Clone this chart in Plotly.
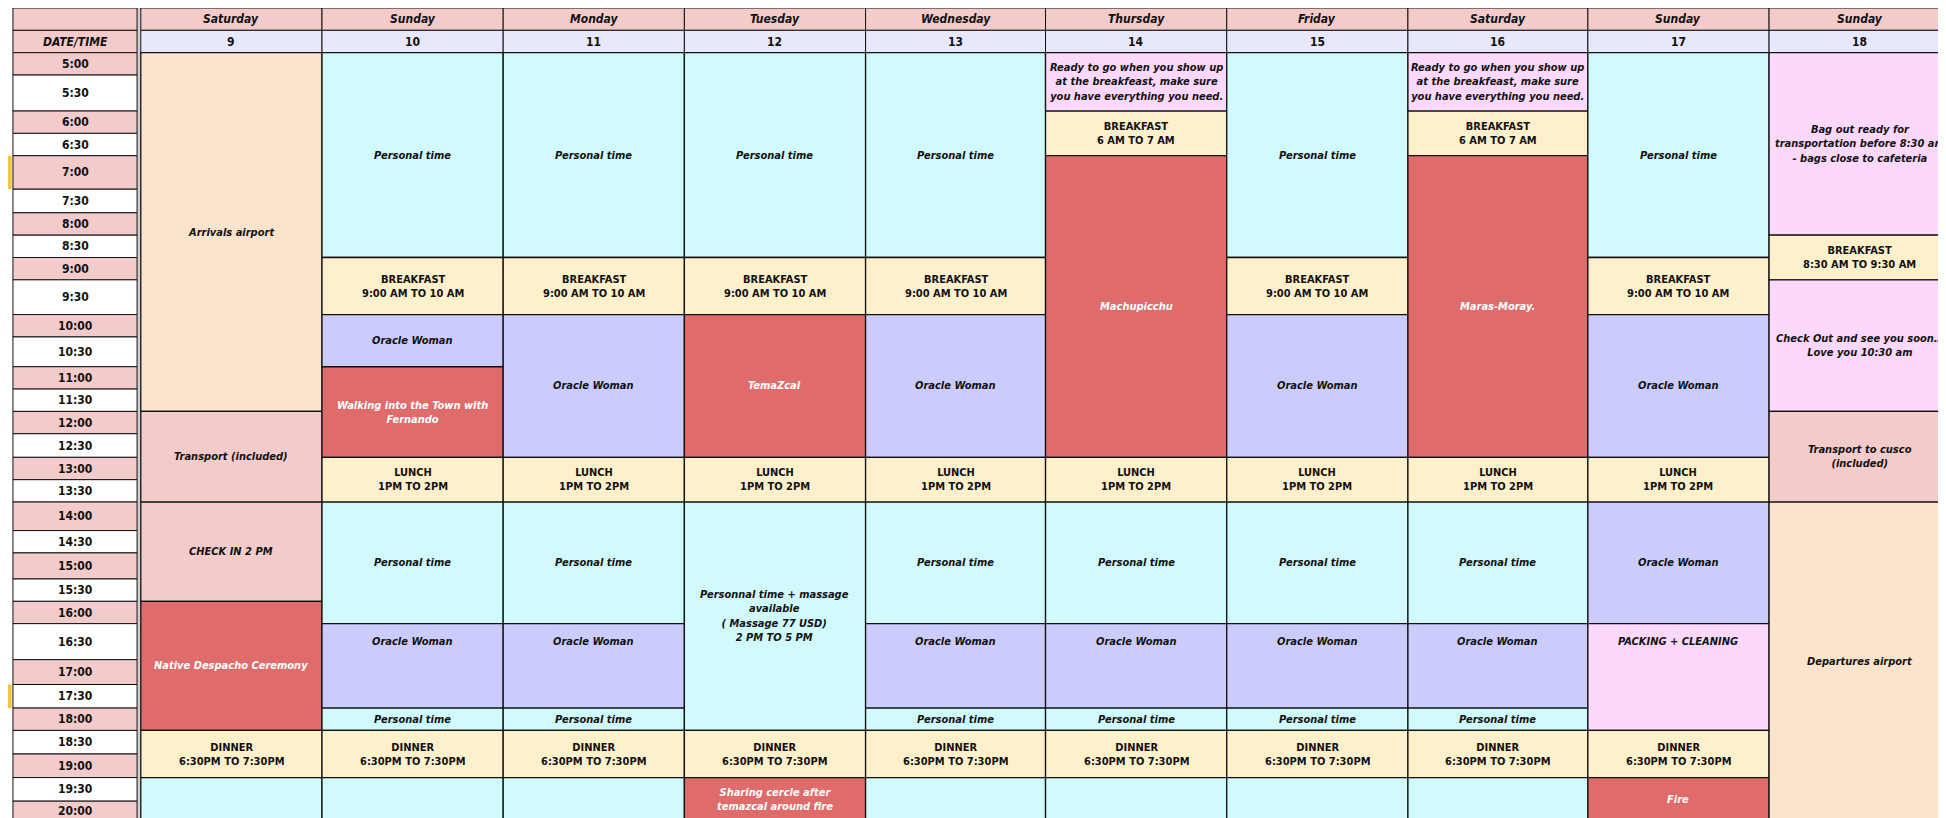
import plotly.graph_objects as go

days = ["Saturday", "Sunday", "Monday", "Tuesday", "Wednesday", "Thursday", "Friday", "Saturday", "Sunday", "Sunday"]
dates = ["9", "10", "11", "12", "13", "14", "15", "16", "17", "18"]
times = ["5:00", "5:30", "6:00", "6:30", "7:00", "7:30", "8:00", "8:30", "9:00", "9:30", "10:00", "10:30",
         "11:00", "11:30", "12:00", "12:30", "13:00", "13:30", "14:00", "14:30", "15:00", "15:30", "16:00",
         "16:30", "17:00", "17:30", "18:00", "18:30", "19:00", "19:30", "20:00"]

C = {"cy": "#D0FAFC", "ye": "#FFF0CC", "la": "#CCCCFC", "re": "#E06B6B", "pe": "#FCE4CC",
     "pk": "#F3CBCB", "mg": "#FCD9FC"}

BF = "<b>BREAKFAST<br>9:00 AM TO 10 AM</b>"
LU = "<b>LUNCH<br>1PM TO 2PM</b>"
DI = "<b>DINNER<br>6:30PM TO 7:30PM</b>"
PT = "<b><i>Personal time</i></b>"
OW = "<b><i>Oracle Woman</i></b>"
RD = "<b><i>Ready to go when you show up<br>at the breakfeast, make sure<br>you have everything you need.</i></b>"
B6 = "<b>BREAKFAST<br>6 AM TO 7 AM</b>"

# (day index, start slot, end slot, text, colour, vertical)
events = [
    (0, 0, 14, "<b><i>Arrivals airport</i></b>", "pe", "c"),
    (0, 14, 18, "<b><i>Transport (included)</i></b>", "pk", "c"),
    (0, 18, 22, "<b><i>CHECK IN 2 PM</i></b>", "pk", "c"),
    (0, 22, 27, "<b><i>Native Despacho Ceremony</i></b>", "re", "c"),
    (0, 27, 29, DI, "ye", "c"), (0, 29, 31, "", "cy", "c"),
    (1, 0, 8, PT, "cy", "c"), (1, 8, 10, BF, "ye", "c"), (1, 10, 12, OW, "la", "c"),
    (1, 12, 16, "<b><i>Walking into the Town with<br>Fernando</i></b>", "re", "c"),
    (1, 16, 18, LU, "ye", "c"), (1, 18, 23, PT, "cy", "c"), (1, 23, 26, OW, "la", "t"),
    (1, 26, 27, PT, "cy", "c"), (1, 27, 29, DI, "ye", "c"), (1, 29, 31, "", "cy", "c"),
    (2, 0, 8, PT, "cy", "c"), (2, 8, 10, BF, "ye", "c"), (2, 10, 16, OW, "la", "c"),
    (2, 16, 18, LU, "ye", "c"), (2, 18, 23, PT, "cy", "c"), (2, 23, 26, OW, "la", "t"),
    (2, 26, 27, PT, "cy", "c"), (2, 27, 29, DI, "ye", "c"), (2, 29, 31, "", "cy", "c"),
    (3, 0, 8, PT, "cy", "c"), (3, 8, 10, BF, "ye", "c"), (3, 10, 16, "<b><i>TemaZcal</i></b>", "re", "c"),
    (3, 16, 18, LU, "ye", "c"),
    (3, 18, 27, "<b><i>Personnal time + massage<br>available<br>( Massage 77 USD)<br>2 PM TO 5 PM</i></b>", "cy", "c"),
    (3, 27, 29, DI, "ye", "c"),
    (3, 29, 31, "<b><i>Sharing cercle after<br>temazcal around fire</i></b>", "re", "c"),
    (4, 0, 8, PT, "cy", "c"), (4, 8, 10, BF, "ye", "c"), (4, 10, 16, OW, "la", "c"),
    (4, 16, 18, LU, "ye", "c"), (4, 18, 23, PT, "cy", "c"), (4, 23, 26, OW, "la", "t"),
    (4, 26, 27, PT, "cy", "c"), (4, 27, 29, DI, "ye", "c"), (4, 29, 31, "", "cy", "c"),
    (5, 0, 2, RD, "mg", "c"), (5, 2, 4, B6, "ye", "c"), (5, 4, 16, "<b><i>Machupicchu</i></b>", "re", "c"),
    (5, 16, 18, LU, "ye", "c"), (5, 18, 23, PT, "cy", "c"), (5, 23, 26, OW, "la", "t"),
    (5, 26, 27, PT, "cy", "c"), (5, 27, 29, DI, "ye", "c"), (5, 29, 31, "", "cy", "c"),
    (6, 0, 8, PT, "cy", "c"), (6, 8, 10, BF, "ye", "c"), (6, 10, 16, OW, "la", "c"),
    (6, 16, 18, LU, "ye", "c"), (6, 18, 23, PT, "cy", "c"), (6, 23, 26, OW, "la", "t"),
    (6, 26, 27, PT, "cy", "c"), (6, 27, 29, DI, "ye", "c"), (6, 29, 31, "", "cy", "c"),
    (7, 0, 2, RD, "mg", "c"), (7, 2, 4, B6, "ye", "c"), (7, 4, 16, "<b><i>Maras-Moray.</i></b>", "re", "c"),
    (7, 16, 18, LU, "ye", "c"), (7, 18, 23, PT, "cy", "c"), (7, 23, 26, OW, "la", "t"),
    (7, 26, 27, PT, "cy", "c"), (7, 27, 29, DI, "ye", "c"), (7, 29, 31, "", "cy", "c"),
    (8, 0, 8, PT, "cy", "c"), (8, 8, 10, BF, "ye", "c"), (8, 10, 16, OW, "la", "c"),
    (8, 16, 18, LU, "ye", "c"), (8, 18, 23, OW, "la", "c"),
    (8, 23, 27, "<b><i>PACKING + CLEANING</i></b>", "mg", "t"),
    (8, 27, 29, DI, "ye", "c"), (8, 29, 31, "<b><i>Fire</i></b>", "re", "c"),
    (9, 0, 7, "<b><i>Bag out ready for<br>transportation before 8:30 am<br>- bags close to cafeteria</i></b>", "mg", "c"),
    (9, 7, 9, "<b>BREAKFAST<br>8:30 AM TO 9:30 AM</b>", "ye", "c"),
    (9, 9, 14, "<b><i>Check Out and see you soon…<br>Love you 10:30 am</i></b>", "mg", "c"),
    (9, 14, 18, "<b><i>Transport to cusco<br>(included)</i></b>", "pk", "c"),
    (9, 18, 31, "<b><i>Departures airport</i></b>", "pe", "c"),
]

# layout geometry (reference pixel grid, 1568 x 659)
row_edges = [36, 54, 83, 101, 119, 146, 165, 183, 201, 219, 247, 265, 289, 307, 325, 343, 362, 380, 398,
             421, 439, 460, 478, 496, 525, 545, 564, 582, 601, 620, 639, 655]
col_edges = [107, 253, 399, 545, 691, 836, 982, 1128, 1273, 1419, 1565]
TX0, TX1 = 4, 104
FONT = "Liberation Sans Narrow, DejaVu Sans Condensed, Arial Narrow, sans-serif"

shapes, ann = [], []
def rect(x0, y0, x1, y1, fill, lw=1):
    shapes.append(dict(type="rect", xref="x", yref="y", x0=x0, x1=x1, y0=y0, y1=y1,
                       fillcolor=fill, line=dict(color="#111", width=lw), layer="below"))
def text(x, y, t, size=11, color="#111"):
    ann.append(dict(x=x, y=y, xref="x", yref="y", text=t, showarrow=False,
                    font=dict(family=FONT, size=size, color=color), align="center"))

# background grey scroll bar + separator
shapes.append(dict(type="rect", xref="x", yref="y", x0=0, x1=1568, y0=655, y1=659, fillcolor="#D8D8D8", line_width=0, layer="below"))
shapes.append(dict(type="rect", xref="x", yref="y", x0=104, x1=107, y0=0, y1=659, fillcolor="#D0D0D0", line_width=0, layer="below"))

# header
rect(TX0, 0, TX1, 18, C["pk"]); rect(TX0, 18, TX1, 36, C["pk"])
text((TX0 + TX1) / 2, 27, "<b><i>DATE/TIME</i></b>", 12)
for i, (d, n) in enumerate(zip(days, dates)):
    x0, x1 = col_edges[i], col_edges[i + 1]
    rect(x0, 0, x1, 18, C["pk"]); rect(x0, 18, x1, 36, "#E8E8FC")
    text((x0 + x1) / 2, 9, f"<b><i>{d}</i></b>", 12)
    text((x0 + x1) / 2, 27, f"<b>{n}</b>", 12)

# time column
for i, t in enumerate(times):
    y0, y1 = row_edges[i], row_edges[i + 1]
    rect(TX0, y0, TX1, y1, C["pk"] if t.endswith(":00") else "#FFFFFF")
    text((TX0 + TX1) / 2, (y0 + y1) / 2, f"<b>{t}</b>", 12)
shapes.append(dict(type="rect", xref="x", yref="y", x0=0, x1=3, y0=119, y1=146, fillcolor="#F4C542", line_width=0))
shapes.append(dict(type="rect", xref="x", yref="y", x0=0, x1=3, y0=545, y1=564, fillcolor="#F4C542", line_width=0))

# events
for d, s, e, t, c, v in events:
    x0, x1 = col_edges[d], col_edges[d + 1]
    y0, y1 = row_edges[s], min(row_edges[e], 655)
    rect(x0, y0, x1, y1, C[c], 1.3)
    if t:
        yy = (y0 + y1) / 2 if v == "c" else y0 + 14
        text((x0 + x1) / 2, yy, t, 11, "#FFFFFF" if c == "re" else "#111")

fig = go.Figure()
fig.update_layout(width=1946, height=818, margin=dict(l=0, r=0, t=0, b=0),
                  plot_bgcolor="#FFFFFF", paper_bgcolor="#FFFFFF",
                  xaxis=dict(range=[0, 1568], visible=False, fixedrange=True),
                  yaxis=dict(range=[659, 0], visible=False, fixedrange=True),
                  shapes=shapes, annotations=ann, showlegend=False)
fig.write_html("out.html", config={"displayModeBar": False})
